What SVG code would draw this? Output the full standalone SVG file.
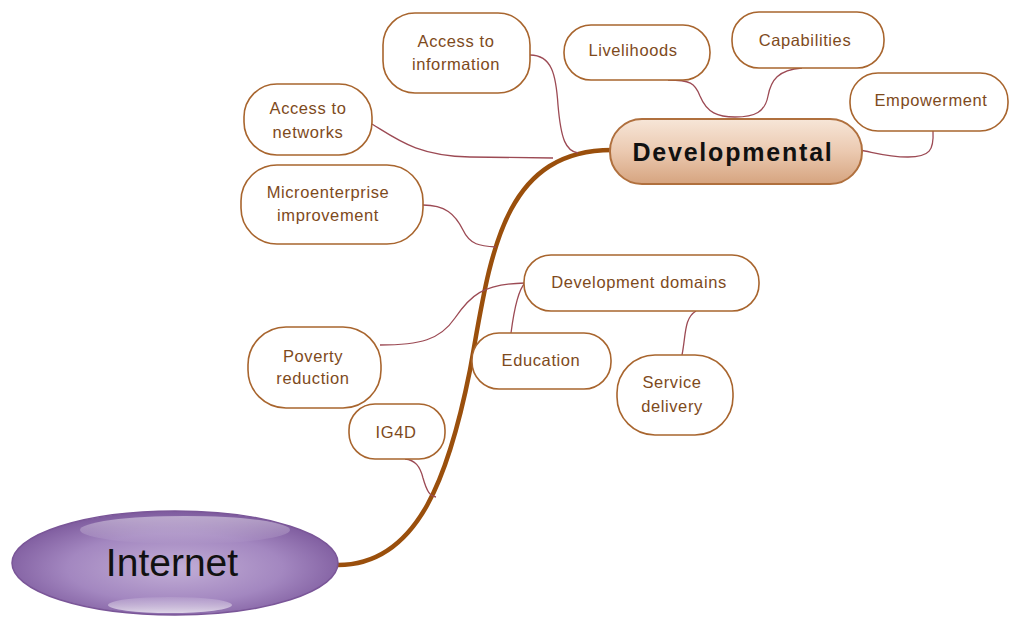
<svg xmlns="http://www.w3.org/2000/svg" width="1010" height="617" viewBox="0 0 1010 617">
<defs>
<linearGradient id="devGrad" x1="0" y1="0" x2="0" y2="1">
<stop offset="0" stop-color="#f7e6d8"/>
<stop offset="0.5" stop-color="#ebc9b0"/>
<stop offset="1" stop-color="#d6a47f"/>
</linearGradient>
<radialGradient id="netGrad" cx="0.5" cy="0.55" r="0.55">
<stop offset="0" stop-color="#c2aed6"/>
<stop offset="0.6" stop-color="#a387c0"/>
<stop offset="1" stop-color="#7d5a9d"/>
</radialGradient>
<linearGradient id="hiGrad" x1="0" y1="0" x2="0" y2="1">
<stop offset="0" stop-color="#ffffff" stop-opacity="0.45"/>
<stop offset="1" stop-color="#ffffff" stop-opacity="0.0"/>
</linearGradient>
<linearGradient id="loGrad" x1="0" y1="0" x2="0" y2="1">
<stop offset="0" stop-color="#ffffff" stop-opacity="0.1"/>
<stop offset="1" stop-color="#ffffff" stop-opacity="0.7"/>
</linearGradient>
</defs>
<style>
.node rect { fill: #ffffff; stroke: #a8652e; stroke-width: 1.6; }
.node text { font-family: "Liberation Sans", Arial, sans-serif; font-size: 16.5px; fill: #7e4a1c; text-anchor: middle; letter-spacing: 0.6px; }
.thin { fill: none; stroke: #9c4a54; stroke-width: 1.3; }
.main { fill: none; stroke: #9a4f0c; stroke-width: 4.5; stroke-linecap: round; }
</style>

<g id="connectors">
<path class="main" d="M 338 565 C 420 565, 450 470, 470 370 C 490 260, 500 150, 612 150"/>
<path class="thin" d="M 530 55 C 552 55, 556 75, 558 105 C 561 140, 566 151, 578 153"/>
<path class="thin" d="M 668 80 C 690 80, 695 83, 700 96 C 707 113, 718 117, 735 117"/>
<path class="thin" d="M 802 68 C 778 70, 771 80, 768 96 C 765 112, 755 117, 735 117"/>
<path class="thin" d="M 933 131 C 934 150, 930 157, 908 157 C 888 157, 876 153, 860 150"/>
<path class="thin" d="M 372 124 C 398 140, 418 156, 470 157 L 553 158"/>
<path class="thin" d="M 423 205 C 445 205, 455 214, 463 230 C 470 245, 480 246, 496 247"/>
<path class="thin" d="M 380 345 C 420 345, 440 340, 455 318 C 470 296, 482 284, 525 283"/>
<path class="thin" d="M 511 333 C 514 310, 518 290, 525 283"/>
<path class="thin" d="M 682 355 C 686 335, 684 318, 696 311"/>
<path class="thin" d="M 405 459 C 415 460, 420 466, 423 478 C 427 492, 430 496, 436 497"/>
</g>

<g id="internet">
<ellipse cx="175" cy="563" rx="163" ry="52" fill="url(#netGrad)" stroke="#7a5698" stroke-width="1.5"/>
<ellipse cx="185" cy="530" rx="105" ry="14" fill="url(#hiGrad)"/>
<ellipse cx="170" cy="605" rx="62" ry="8" fill="url(#loGrad)"/>
<text x="172" y="576" font-family="Liberation Sans, Arial, sans-serif" font-size="39" fill="#111111" text-anchor="middle">Internet</text>
</g>

<g id="developmental">
<rect x="610" y="119" width="252" height="65" rx="32" fill="url(#devGrad)" stroke="#b0703e" stroke-width="2"/>
<text x="733" y="161" font-family="Liberation Sans, Arial, sans-serif" font-size="25" font-weight="bold" fill="#111111" text-anchor="middle" letter-spacing="1.8">Developmental</text>
</g>

<g id="access-information" class="node">
<rect x="383" y="13" width="147" height="80" rx="32"/>
<text x="456" y="47">Access to</text>
<text x="456" y="70">information</text>
</g>

<g id="livelihoods" class="node">
<rect x="564" y="25" width="146" height="55" rx="27"/>
<text x="633" y="56">Livelihoods</text>
</g>

<g id="capabilities" class="node">
<rect x="732" y="12" width="152" height="56" rx="27"/>
<text x="805" y="46">Capabilities</text>
</g>

<g id="empowerment" class="node">
<rect x="850" y="73" width="158" height="58" rx="28"/>
<text x="931" y="106">Empowerment</text>
</g>

<g id="access-networks" class="node">
<rect x="244" y="84" width="128" height="71" rx="33"/>
<text x="308" y="114">Access to</text>
<text x="308" y="138">networks</text>
</g>

<g id="microenterprise" class="node">
<rect x="241" y="165" width="182" height="79" rx="36"/>
<text x="328" y="198">Microenterprise</text>
<text x="328" y="221">improvement</text>
</g>

<g id="development-domains" class="node">
<rect x="524" y="255" width="235" height="56" rx="27"/>
<text x="639" y="288">Development domains</text>
</g>

<g id="education" class="node">
<rect x="472" y="333" width="139" height="56" rx="27"/>
<text x="541" y="366">Education</text>
</g>

<g id="service-delivery" class="node">
<rect x="617" y="355" width="116" height="80" rx="38"/>
<text x="672" y="388">Service</text>
<text x="672" y="412">delivery</text>
</g>

<g id="poverty-reduction" class="node">
<rect x="248" y="327" width="133" height="81" rx="38"/>
<text x="313" y="362">Poverty</text>
<text x="313" y="384">reduction</text>
</g>

<g id="ig4d" class="node">
<rect x="349" y="404" width="96" height="55" rx="26"/>
<text x="396" y="438">IG4D</text>
</g>
</svg>
